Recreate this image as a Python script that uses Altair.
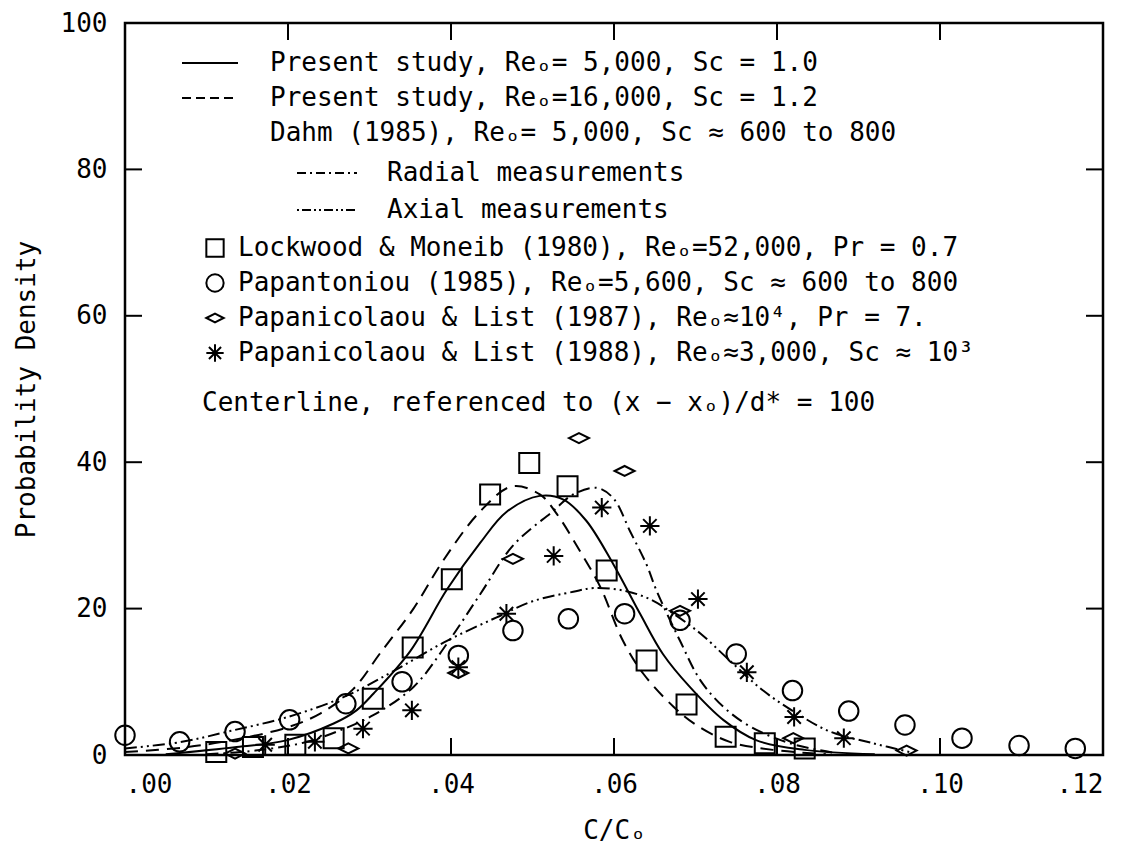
import altair as alt
import pandas as pd

FONT = "DejaVu Sans Mono"
FS = 26

# ---- data ----
# Present study, Re=5,000 (solid)
solid_x = [0.005, 0.0137, 0.0198, 0.0256, 0.0284, 0.0305, 0.035, 0.0395, 0.0436, 0.0468, 0.0509,
           0.0538, 0.0566, 0.0599, 0.0632, 0.066, 0.0693, 0.0734, 0.0775, 0.0834, 0.092]
solid_y = [0.1, 1.1, 2.0, 4.3, 6.1, 8.4, 14.2, 22.6, 29.0, 33.2, 35.4,
           34.9, 32.0, 26.1, 19.3, 13.8, 9.3, 4.8, 2.0, 0.7, 0.1]
# Present study, Re=16,000 (dashed)
dash_x = [0.0, 0.007, 0.013, 0.02, 0.024, 0.028, 0.0313, 0.0354, 0.039, 0.0436, 0.0475, 0.0509,
          0.053, 0.0558, 0.0583, 0.0611, 0.0636, 0.0673, 0.0701, 0.0742, 0.0795, 0.086]
dash_y = [0.4, 1.0, 2.0, 3.8, 5.7, 9.0, 13.9, 20.0, 26.5, 33.3, 36.7, 35.6,
          32.9, 27.9, 23.0, 15.6, 11.1, 6.6, 4.1, 1.8, 0.7, 0.1]
# Dahm (1985) radial (dash-dot)
rad_x = [0.010, 0.016, 0.022, 0.026, 0.0304, 0.0354, 0.0395, 0.0436, 0.0476, 0.0525, 0.055,
         0.0579, 0.0599, 0.062, 0.064, 0.0652, 0.0681, 0.0706, 0.0734, 0.0767, 0.0816, 0.0870]
rad_y = [0.1, 0.6, 1.7, 3.2, 5.4, 9.3, 15.2, 22.0, 28.6, 33.3, 35.6,
         36.5, 35.1, 30.5, 26.0, 22.5, 15.6, 10.2, 6.6, 3.9, 1.6, 0.3]
# Dahm (1985) axial (dash-dot-dot)
ax_x = [0.0, 0.007, 0.013, 0.02, 0.027, 0.033, 0.0395, 0.0456, 0.05, 0.055, 0.0575, 0.061,
        0.0644, 0.0673, 0.0706, 0.0742, 0.0783, 0.0824, 0.0865, 0.0918, 0.0963]
ax_y = [0.9, 1.8, 3.3, 5.2, 8.0, 11.5, 15.6, 18.8, 21.0, 22.3, 22.8, 22.5,
        21.3, 19.3, 16.6, 12.9, 8.8, 5.7, 3.2, 1.6, 0.4]

# Lockwood & Moneib (1980) squares
sq_x = [0.0112, 0.0157, 0.0209, 0.0256, 0.0304, 0.0353, 0.0401, 0.0448, 0.0496, 0.0543,
        0.0591, 0.0640, 0.0689, 0.0737, 0.0785, 0.0834]
sq_y = [0.4, 1.1, 1.4, 2.3, 7.7, 14.7, 24.0, 35.6, 39.9, 36.7, 25.2, 12.9, 6.9, 2.5, 1.6, 0.9]
# Papantoniou (1985) circles
ci_x = [0.0, 0.0067, 0.0135, 0.0202, 0.0271, 0.034, 0.0409, 0.0476, 0.0544, 0.0613, 0.0681,
        0.0750, 0.0819, 0.0888, 0.0957, 0.1027, 0.1097, 0.1166]
ci_y = [2.7, 1.8, 3.2, 4.8, 7.0, 10.0, 13.6, 17.0, 18.6, 19.3, 18.4, 13.8, 8.8, 6.0, 4.1, 2.3, 1.3, 0.9]
# Papanicolaou & List (1987) diamonds
di_x = [0.0135, 0.0274, 0.0409, 0.0476, 0.0557, 0.0613, 0.0681, 0.082, 0.0959]
di_y = [0.2, 0.9, 11.2, 26.8, 43.3, 38.8, 19.7, 2.3, 0.6]
# Papanicolaou & List (1988) stars
st_x = [0.0172, 0.0233, 0.0292, 0.0352, 0.0409, 0.0468, 0.0526, 0.0585, 0.0644, 0.0703,
        0.0763, 0.0821, 0.0882]
st_y = [1.4, 1.8, 3.6, 6.1, 12.0, 19.3, 27.2, 33.8, 31.3, 21.3, 11.3, 5.2, 2.3]

x_ticks = [0.0, 0.02, 0.04, 0.06, 0.08, 0.10, 0.12]
y_ticks = [0, 20, 40, 60, 80, 100]
x_inner = [0.02, 0.04, 0.06, 0.08, 0.10]
y_inner = [20, 40, 60, 80]

legend_labels = [
    "Present study, Reₒ= 5,000, Sc = 1.0",
    "Present study, Reₒ=16,000, Sc = 1.2",
    "Dahm (1985), Reₒ= 5,000, Sc ≈ 600 to 800",
    "Radial measurements",
    "Axial measurements",
    "Lockwood & Moneib (1980), Reₒ=52,000, Pr = 0.7",
    "Papantoniou (1985), Reₒ=5,600, Sc ≈ 600 to 800",
    "Papanicolaou & List (1987), Reₒ≈10⁴, Pr = 7.",
    "Papanicolaou & List (1988), Reₒ≈3,000, Sc ≈ 10³",
]
note_label = "Centerline, referenced to (x − xₒ)/d* = 100"

W, H = 978, 732

DASHED = [13, 8]
RADIAL = [12, 5, 2, 5]
AXIAL = [12, 4, 2, 4, 2, 4]

DIAMOND = "M-1,0L0,-0.5L1,0L0,0.5Z"
STAR = "M-1,0L1,0M0,-1L0,1M-0.7,-0.7L0.7,0.7M-0.7,0.7L0.7,-0.7"

X = alt.X("x:Q", scale=alt.Scale(domain=[0, 0.12], nice=False, zero=False),
          axis=alt.Axis(values=x_ticks, title="C/Cₒ",
                        labelExpr="replace(format(datum.value, '.2f'), '0.', '.')"))
Y = alt.Y("y:Q", scale=alt.Scale(domain=[0, 100], nice=False),
          axis=alt.Axis(values=y_ticks, title="Probability Density"))


def df(xs, ys):
    return pd.DataFrame({"x": xs, "y": ys})


def curve(xs, ys, dash=None):
    kw = dict(color="black", strokeWidth=2, interpolate="catmull-rom", clip=True)
    if dash:
        kw["strokeDash"] = dash
    return alt.Chart(df(xs, ys)).mark_line(**kw).encode(x=X, y=Y)


def pts(xs, ys, shape, size):
    return alt.Chart(df(xs, ys)).mark_point(shape=shape, size=size, filled=False,
                                            color="black", strokeWidth=2, opacity=1).encode(x=X, y=Y)


one = pd.DataFrame({"t": [""]})


def txt(s, px, py):
    return alt.Chart(pd.DataFrame({"t": [s]})).mark_text(
        align="left", baseline="middle", font=FONT, fontSize=FS, color="black"
    ).encode(x=alt.value(px), y=alt.value(py), text="t:N")


def sample(x1, x2, py, dash=None):
    kw = dict(color="black", strokeWidth=2)
    if dash:
        kw["strokeDash"] = dash
    return alt.Chart(one).mark_rule(**kw).encode(x=alt.value(x1), x2=alt.value(x2), y=alt.value(py))


def sym(shape, size, px, py):
    return alt.Chart(one).mark_point(shape=shape, size=size, filled=False, color="black",
                                     strokeWidth=2, opacity=1).encode(x=alt.value(px), y=alt.value(py))


TL = 17
xt = pd.DataFrame({"x": x_inner})
yt = pd.DataFrame({"y": y_inner})
ticks = [
    alt.Chart(xt).mark_rule(color="black", strokeWidth=2).encode(x=X, y=alt.value(H), y2=alt.value(H - TL)),
    alt.Chart(xt).mark_rule(color="black", strokeWidth=2).encode(x=X, y=alt.value(0), y2=alt.value(TL)),
    alt.Chart(yt).mark_rule(color="black", strokeWidth=2).encode(y=Y, x=alt.value(0), x2=alt.value(TL)),
    alt.Chart(yt).mark_rule(color="black", strokeWidth=2).encode(y=Y, x=alt.value(W), x2=alt.value(W - TL)),
]

o = 3  # legend offset because the plot top moved down by 3px
layers = [
    curve(solid_x, solid_y),
    curve(dash_x, dash_y, DASHED),
    curve(rad_x, rad_y, RADIAL),
    curve(ax_x, ax_y, AXIAL),
    pts(sq_x, sq_y, "square", 400),
    pts(ci_x, ci_y, "circle", 380),
    pts(di_x, di_y, DIAMOND, 400),
    pts(st_x, st_y, STAR, 370),
] + ticks + [
    sample(57, 113, 43 - o),
    txt(legend_labels[0], 145, 43 - o),
    sample(57, 113, 78 - o, [9, 5]),
    txt(legend_labels[1], 145, 78 - o),
    txt(legend_labels[2], 145, 113 - o),
    sample(172, 232, 153 - o, [9, 4, 2, 4]),
    txt(legend_labels[3], 262, 153 - o),
    sample(172, 232, 190 - o, [2, 3, 9, 3, 2, 3]),
    txt(legend_labels[4], 262, 190 - o),
    sym("square", 300, 90, 228 - o),
    txt(legend_labels[5], 113, 228 - o),
    sym("circle", 300, 90, 263 - o),
    txt(legend_labels[6], 113, 263 - o),
    sym(DIAMOND, 300, 90, 298 - o),
    txt(legend_labels[7], 113, 298 - o),
    sym(STAR, 300, 90, 333 - o),
    txt(legend_labels[8], 113, 333 - o),
    txt(note_label, 77, 383 - o),
]

chart = alt.layer(*layers).properties(
    width=W, height=H,
    autosize=alt.AutoSizeParams(type="none"),
    padding={"left": 117, "top": 15, "right": 20, "bottom": 88},
    background="white",
).configure_view(
    stroke="black", strokeWidth=2.5
).configure_axis(
    domain=False, grid=False, ticks=False, tickSize=0,
    labelFont=FONT, labelFontSize=FS, labelColor="black", labelFontWeight="normal",
    titleFont=FONT, titleFontSize=FS, titleColor="black", titleFontWeight="normal",
).configure_axisX(
    labelPadding=16, titlePadding=20
).configure_axisY(
    labelPadding=18, titlePadding=21
)

chart.save("out.html", embed_options={"renderer": "svg", "actions": False})
